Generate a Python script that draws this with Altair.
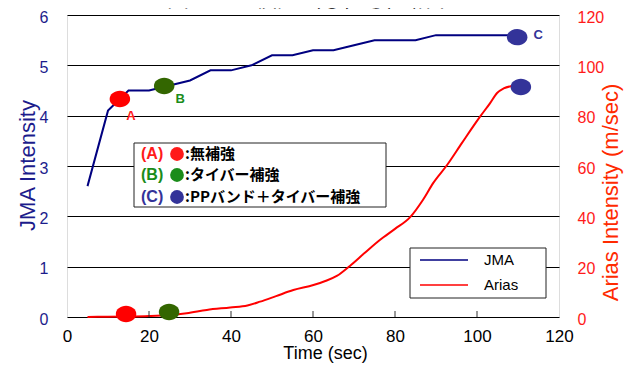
import altair as alt
import pandas as pd

# ---- data ----
jma_t = [5, 10, 15, 20, 25, 30, 35, 40, 45, 50, 55, 60, 65, 70, 75, 80, 85, 90, 95, 100, 105, 110]
jma_v = [2.6, 4.1, 4.5, 4.5, 4.6, 4.7, 4.9, 4.9, 5.0, 5.2, 5.2, 5.3, 5.3, 5.4, 5.5, 5.5, 5.5, 5.6, 5.6, 5.6, 5.6, 5.6]

arias_t = [5, 10, 15, 20, 25, 29.2, 34.1, 39.8, 44, 47.1, 51, 55.2, 60.1, 63, 65.8, 69, 72.5, 76.3,
           80, 83.7, 86.8, 89.3, 92.7, 96.3, 100.7, 103.2, 104.9, 106.5, 108.5]
arias_v = [0, 0.1, 0.2, 0.4, 0.8, 1.5, 2.8, 3.8, 4.6, 6.1, 8.3, 10.7, 12.7, 14.3, 16.3, 20.3, 25.3, 30.6,
           35.0, 39.7, 46.5, 53.2, 60.4, 69.1, 79.5, 85, 89, 90.8, 91.8]

case_ids = ["A", "B", "C"]
case_colors = ["#ff0000", "#336600", "#333399"]
label_colors = ["#ff1a1a", "#1a8c1a", "#333399"]
jma_dot_t = [12.9, 23.7, 109.8]
jma_dot_v = [4.33, 4.59, 5.56]
arias_dot_t = [14.4, 24.9, 110.7]
arias_dot_v = [1.2, 2.0, 91.4]
case_names = ["無補強", "タイバー補強", "PPバンド＋タイバー補強"]

x_ticks = [0, 20, 40, 60, 80, 100, 120]
inner_ticks = [20, 40, 60, 80, 100]
jma_ticks = [0, 1, 2, 3, 4, 5, 6]
arias_ticks = [0, 20, 40, 60, 80, 100, 120]
series_names = ["JMA", "Arias"]
series_colors = ["#000080", "#ff0000"]
title_text = "図－２　検証（①，②）結果"

W, H = 492, 302
FONT = "Liberation Sans"
JP = "Noto Sans CJK JP"
NAVY = "#1c1c8c"

jma_df = pd.DataFrame({"t": jma_t, "v": jma_v})
arias_df = pd.DataFrame({"t": arias_t, "v": arias_v})
jdot = pd.DataFrame({"t": jma_dot_t, "v": jma_dot_v, "c": case_ids})
adot = pd.DataFrame({"t": arias_dot_t, "v": arias_dot_v, "c": case_ids})

ellipse = "M-1,0A1,0.8,0,1,1,1,0A1,0.8,0,1,1,-1,0Z"

xscale = alt.Scale(domain=[0, 120], nice=False, zero=False)
xaxis = alt.Axis(values=x_ticks, title="Time (sec)", grid=False, domain=False, ticks=False,
                 labelFlush=False, labelPadding=11, labelFontSize=17, labelColor="black",
                 labelFont=FONT,
                 titleFontSize=18, titleFontWeight="normal", titleFont=FONT, titleColor="black",
                 titlePadding=0, titleX=258)
X = alt.X("t:Q", scale=xscale, axis=xaxis)
cscale = alt.Scale(domain=case_ids, range=case_colors)

yj = alt.Y("v:Q", scale=alt.Scale(domain=[0, 6], nice=False),
           axis=alt.Axis(orient="left", values=jma_ticks, grid=True, gridColor="black", gridWidth=1,
                         gridOpacity=1, domain=False, ticks=False, labelFlush=False,
                         labelPadding=19, labelOffset=2,
                         labelFontSize=16, labelColor=NAVY, labelFont=FONT,
                         title="JMA Intensity", titleFontSize=22, titleFontWeight="normal",
                         titleFont=FONT, titleColor=NAVY, titleAngle=270, titleX=-40, titleY=150,
                         titleAlign="center", titleBaseline="middle"))
ya = alt.Y("v:Q", scale=alt.Scale(domain=[0, 120], nice=False),
           axis=alt.Axis(orient="right", values=arias_ticks, grid=False, domain=False, ticks=False,
                         labelFlush=False, labelPadding=18, labelOffset=2, labelFontSize=16,
                         labelColor="#ff1a1a", labelFont=FONT,
                         title="Arias Intensity (m/sec)", titleFontSize=22, titleFontWeight="normal",
                         titleFont=FONT, titleColor="#ff2a00", titleAngle=270, titleX=51, titleY=177,
                         titleAlign="center", titleBaseline="middle"))

jma_line = alt.Chart(jma_df).mark_line(color=series_colors[0], strokeWidth=2).encode(x=X, y=yj)
jma_pts = alt.Chart(jdot).mark_point(shape=ellipse, filled=True, size=420, opacity=1).encode(
    x=X, y=yj, color=alt.Color("c:N", scale=cscale, legend=None))
offsets = {"A": (11, 17), "B": (16, 13), "C": (21, -2)}
jma_lbls = []
for cid, col in zip(case_ids, label_colors):
    dx, dy = offsets[cid]
    jma_lbls.append(
        alt.Chart(jdot).transform_filter(alt.datum.c == cid)
        .mark_text(dx=dx, dy=dy, fontSize=13, fontWeight="bold", font=FONT, color=col)
        .encode(x=X, y=yj, text="c:N"))
left = alt.layer(jma_line, jma_pts, *jma_lbls)

arias_line = alt.Chart(arias_df).mark_line(color=series_colors[1], strokeWidth=2,
                                           interpolate="monotone").encode(x=X, y=ya)
arias_pts = alt.Chart(adot).mark_point(shape=ellipse, filled=True, size=420, opacity=1).encode(
    x=X, y=ya, color=alt.Color("c:N", scale=cscale, legend=None))
right = alt.layer(arias_line, arias_pts)

ticks = alt.Chart(pd.DataFrame({"t": inner_ticks})).mark_rule(color="#333", strokeWidth=1).encode(
    x=X, y=alt.value(H), y2=alt.value(H - 6))

one = alt.Chart(pd.DataFrame({"k": [0]}))

deco = []
# annotation box
deco.append(one.mark_rect(fill="white", stroke="#222", strokeWidth=1).encode(
    x=alt.value(67), x2=alt.value(319), y=alt.value(128), y2=alt.value(192)))
rows_y = [139, 160, 182]
for cid, col, name, ry in zip(case_ids, label_colors, case_names, rows_y):
    deco.append(one.mark_text(align="left", baseline="middle", fontSize=16, fontWeight="bold",
                              font=FONT, color=col).encode(
        x=alt.value(74), y=alt.value(ry), text=alt.value(f"({cid})")))
    deco.append(one.mark_point(shape="circle", filled=True, size=190, opacity=1, color=col).encode(
        x=alt.value(110), y=alt.value(ry)))
    deco.append(one.mark_text(align="left", baseline="middle", fontSize=15, fontWeight="bold",
                              font=JP, color="black").encode(
        x=alt.value(118), y=alt.value(ry), text=alt.value(":" + name)))

# series legend box
deco.append(one.mark_rect(fill="white", stroke="#222", strokeWidth=1).encode(
    x=alt.value(343), x2=alt.value(479), y=alt.value(233), y2=alt.value(283)))
for name, col, ry in zip(series_names, series_colors, [245, 270]):
    deco.append(one.mark_rule(color=col, strokeWidth=1.5).encode(
        x=alt.value(353), x2=alt.value(401), y=alt.value(ry)))
    deco.append(one.mark_text(align="left", baseline="middle", fontSize=15, font=FONT,
                              color="black").encode(
        x=alt.value(417), y=alt.value(ry), text=alt.value(name)))

# clipped title at the very top (cut off in the reference too)
deco.append(one.mark_text(align="center", baseline="bottom", fontSize=22, font=JP,
                          color="black").encode(
    x=alt.value(243), y=alt.value(-4), text=alt.value(title_text)))

chart = alt.layer(left, right, ticks, *deco).resolve_scale(y="independent", color="shared").properties(
    width=W, height=H,
    autosize=alt.AutoSizeParams(type="none"),
    padding={"left": 59, "top": 7, "right": 66, "bottom": 46},
).configure_view(stroke="#333", strokeWidth=1.5).configure(background="white")

chart.save("out.html", embed_options={"renderer": "svg", "actions": False})
